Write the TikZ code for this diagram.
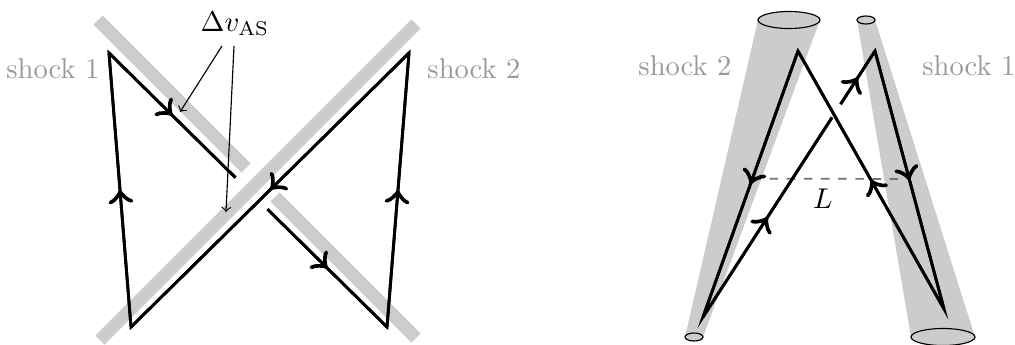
\documentclass[tikz,border=0pt]{standalone}
\usepackage{amsmath,amssymb}
\usepackage{xcolor}
\usetikzlibrary{calc,decorations.markings}

\tikzset{
  shockband/.style={line width=4.5pt, black!20},
  shockcone/.style={fill=black!20},
  shocktip/.style={fill=black!20, draw=black, thin},
  shocklabel/.style={text=black!40},
  orbit/.style={line width=1pt, line join=miter},
  flow/.style={postaction={decorate},
    decoration={markings, mark=at position 0.5 with {\arrow[scale=1.6]{>}}}},
  pointer/.style={->, thin},
  ruler/.style={dashed, black!55, semithick}
}

\begin{document}
\begin{tikzpicture}[x=0.0123cm, y=-0.0123cm]
  \useasboundingbox (0,0) rectangle (1015,345);

  % Left: two crossing shocks
  \draw[shockband] (98,20) -- (246,168);
  \draw[shockband] (275,197) -- (416,338);
  \draw[shockband] (100,340) -- (416,24);
  \node[shocklabel] (s1l) at (53,69) {shock 1};
  \node[shocklabel] (s2l) at (474,69) {shock 2};

  \coordinate (K1) at (109,53);
  \coordinate (K2) at (131,327);
  \coordinate (K3) at (409,53);
  \coordinate (K4) at (387,327);
  \coordinate (G1) at ($(K1)!0.455!(K4)$);
  \coordinate (G2) at ($(K1)!0.57!(K4)$);
  \draw[orbit] (G2) -- (K4) -- (K3) -- (K2) -- (K1) -- (G1);
  \foreach \a/\b in {G2/K4, K4/K3, K3/K2, K2/K1, K1/G1}
    \draw[orbit, flow] (\a) -- (\b);

  % velocity jump
  \node (dv) at (235,24) {$\Delta v_{\mathrm{AS}}$};
  \coordinate (dvA) at (180,112);
  \coordinate (dvB) at (226,212);
  \draw[pointer] ($(dv.south)+(-13,0)$) -- (dvA);
  \draw[pointer] ($(dv.south)+(-1,0)$) -- (dvB);

  % Right: shock cones
  \fill[shockcone] (758,20) -- (820,20) -- (703,337) -- (685,337) -- cycle;
  \fill[shockcone] (857,20) -- (875,20) -- (975,337) -- (911,337) -- cycle;
  \draw[shocktip] (789,20) ellipse [x radius=31, y radius=8.5];
  \draw[shocktip] (694,337) ellipse [x radius=9, y radius=4];
  \draw[shocktip] (866,20) ellipse [x radius=9, y radius=4];
  \draw[shocktip] (943,337) ellipse [x radius=32, y radius=8.5];
  \node[shocklabel] (s2r) at (685,66) {shock 2};
  \node[shocklabel] (s1r) at (969,66) {shock 1};

  \coordinate (A) at (798,51);
  \coordinate (B) at (875,51);
  \coordinate (C) at (703,317);
  \coordinate (D) at (944,309);
  \coordinate (H1) at ($(C)!0.75!(B)$);
  \coordinate (H2) at ($(C)!0.80!(B)$);

  % separation
  \coordinate (Ll) at ($(A)!0.48!(C)$);
  \coordinate (Lr) at ($(B)!0.496!(D)$);
  \draw[ruler] (Ll) -- node[below, pos=0.45, text=black] (len) {$L$} (Lr);

  \draw[orbit] (H2) -- (B) -- (D) -- (A) -- (C) -- (H1);
  \foreach \a/\b in {C/H1, H2/B, B/D, D/A, A/C}
    \draw[orbit, flow] (\a) -- (\b);
\end{tikzpicture}
\end{document}
